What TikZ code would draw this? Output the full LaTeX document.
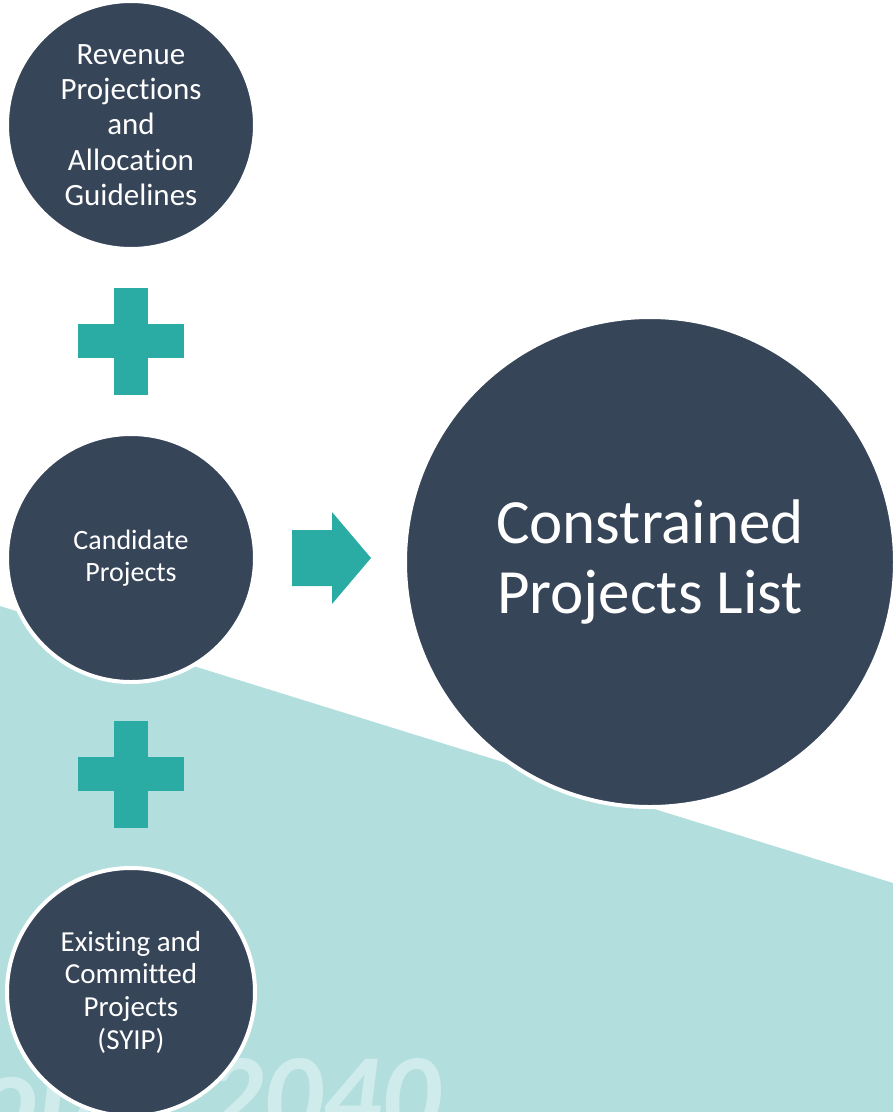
\documentclass[tikz,border=0pt]{standalone}
\usepackage{fontspec}
\setmainfont{Carlito}[Ligatures={NoCommon,NoRare}]
\definecolor{navy}{HTML}{374559}
\definecolor{plusteal}{HTML}{2AACA5}
\definecolor{lightteal}{HTML}{B2DFDE}
\tikzset{
  circ/.style={circle, fill=navy, draw=white, line width=4pt, inner sep=0pt, text=white, align=center},
  plusbar/.style={fill=plusteal},
  wmark/.style={inner sep=0pt, text=white, opacity=0.4, font=\fontsize{116}{118}\selectfont\bfseries\itshape},
}
\begin{document}
\begin{tikzpicture}[x=1pt,y=-1pt]
\useasboundingbox (0,0) rectangle (893,1112);
% background
\fill[lightteal] (0,606) -- (893,883) -- (893,1112) -- (0,1112) -- cycle;
% watermark
\node[wmark, anchor=base east] (wm) at (440,1134) {2040};
\node[wmark, anchor=base east] (wmleft) at (118,1134) {ol/};
% plus signs
\fill[plusbar] (114,288) rectangle (148,395);
\fill[plusbar] (78,324) rectangle (184,358);
\fill[plusbar] (114,721) rectangle (148,828);
\fill[plusbar] (78,757) rectangle (184,791);
% circles
\node[circ, minimum size=248pt, font=\fontsize{31}{35.2}\selectfont] (rev) at (131,125) {Revenue\\Projections\\and\\Allocation\\Guidelines};
\node[circ, minimum size=248pt, font=\fontsize{28}{32}\selectfont] (cand) at (131,558) {Candidate\\Projects};
\node[circ, minimum size=248pt, font=\fontsize{29}{32.7}\selectfont] (exist) at (131,992) {Existing and\\Committed\\Projects\\(SYIP)};
\node[circ, minimum size=490pt, font=\fontsize{63}{70}\selectfont] (big) at (650,562) {Constrained\\Projects List};
% arrow
\fill[plusteal] (292,530) -- (332,530) -- (332,512) -- (371,558) -- (332,604) -- (332,586) -- (292,586) -- cycle;
\end{tikzpicture}
\end{document}
